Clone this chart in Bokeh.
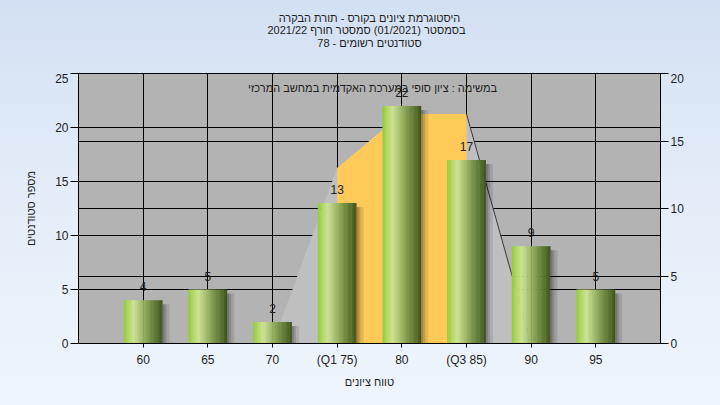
import numpy as np
from bokeh.plotting import figure
from bokeh.layouts import column
from bokeh.models import Range1d, LinearAxis, FixedTicker, Label
from bokeh.core.properties import value
from bokeh.embed import file_html
from bokeh.resources import INLINE

# Grade bins and number of students in each bin
bins = ["60", "65", "70", "(Q1 75)", "80", "(Q3 85)", "90", "95"]
students = [4, 5, 2, 13, 22, 17, 9, 5]
# Distribution outline on the secondary axis
curve = [0, 0, 0, 13, 17, 17, 0, 0]
q1_index, q3_index = 3, 5

left_ticks = [0, 5, 10, 15, 20, 25]
right_ticks = [0, 5, 10, 15, 20]

title_lines = [
    "היסטוגרמת ציונים בקורס - תורת הבקרה",
    "בסמסטר  (01/2021)  סמסטר חורף 2021/22",
    "סטודנטים רשומים - 78",
]
subtitle = "במשימה : ציון סופי במערכת האקדמית במחשב המרכזי"
x_title = "טווח ציונים"
y_title = "מספר סטודנטים"

FONT = "Liberation Sans"
TEXT = "#1e1e1e"

W, H = 720, 405
HEAD = 73                      # height of the heading strip
ML, MR, MB = 78, 60, 62
chart_h = H - HEAD
frame_w = W - ML - MR
frame_h = chart_h - MB

# ---- heading strip -------------------------------------------------------
head = figure(
    width=W, height=HEAD, x_range=Range1d(0, W), y_range=Range1d(0, HEAD),
    x_axis_type=None, y_axis_type=None, output_backend="svg",
    toolbar_location=None, min_border=0,
)
head.grid.visible = False
head.outline_line_color = None
head.background_fill_color = None
head.background_fill_alpha = 0
head.border_fill_color = None
head.border_fill_alpha = 0
line_y = [HEAD - 17, HEAD - 29.5, HEAD - 42]
head.text(x=[W / 2] * len(title_lines), y=line_y, text=title_lines,
          text_align="center", text_baseline="middle",
          text_font=value(FONT), text_font_size="11px", text_color=TEXT)

# ---- chart ---------------------------------------------------------------
xs = np.arange(1, len(bins) + 1, dtype=float)
x_max = len(bins) + 1
y_max = left_ticks[-1]
y2_max = right_ticks[-1]

p = figure(
    width=W, height=chart_h,
    x_range=Range1d(0, x_max), y_range=Range1d(0, y_max),
    output_backend="svg", toolbar_location=None,
    min_border_left=ML, min_border_right=MR,
    min_border_top=0, min_border_bottom=MB,
)
p.extra_y_ranges = {"right": Range1d(0, y2_max)}

p.border_fill_color = None
p.border_fill_alpha = 0
p.background_fill_color = "#b3b3b3"
p.outline_line_color = "black"
p.outline_line_width = 1

# Grid: vertical at every bin, horizontal at both axes' ticks
p.xgrid.ticker = FixedTicker(ticks=list(xs))
p.ygrid.ticker = FixedTicker(ticks=left_ticks + [t * y_max / y2_max for t in right_ticks])
for g in (p.xgrid, p.ygrid):
    g.grid_line_color = "black"
    g.grid_line_alpha = 1.0
    g.grid_line_width = 1

# Distribution area, inter-quartile band highlighted
p.varea(x=xs, y1=0, y2=curve, y_range_name="right", fill_color="#bfbfbf")
p.varea(x=xs[q1_index:q3_index + 1], y1=0, y2=curve[q1_index:q3_index + 1],
        y_range_name="right", fill_color="#ffca58")
p.line(xs[q3_index:q3_index + 2], curve[q3_index:q3_index + 2], y_range_name="right",
       line_color="#3a3a3a", line_width=1)

# Soft shadows on the right side of each bar
px_x = x_max / frame_w
px_y = y_max / frame_h
bar_w = 0.6
for a, b, alpha in [(0, 2, 0.35), (2, 4, 0.22), (4, 7, 0.10)]:
    p.quad(left=xs + bar_w / 2 + a * px_x, right=xs + bar_w / 2 + b * px_x,
           bottom=0, top=np.array(students) - 4 * px_y,
           fill_color="black", fill_alpha=alpha, line_color=None)

# Cylinder-shaded bars built from thin vertical strips
stops = [
    (0.00, (150, 200, 58)),
    (0.12, (178, 216, 100)),
    (0.26, (205, 228, 148)),
    (0.45, (166, 190, 112)),
    (0.70, (112, 140, 66)),
    (0.90, (80, 104, 40)),
    (1.00, (58, 78, 28)),
]


def shade(t):
    for (t0, c0), (t1, c1) in zip(stops[:-1], stops[1:]):
        if t <= t1:
            f = (t - t0) / (t1 - t0)
            return "#%02x%02x%02x" % tuple(int(round(u + (v - u) * f)) for u, v in zip(c0, c1))
    return "#%02x%02x%02x" % stops[-1][1]


n_strips = 30
lefts, rights, tops, colors = [], [], [], []
for x, v in zip(xs, students):
    for k in range(n_strips):
        l0 = x - bar_w / 2 + k * bar_w / n_strips
        lefts.append(l0)
        rights.append(min(l0 + bar_w / n_strips * 1.3, x + bar_w / 2))
        tops.append(v)
        colors.append(shade((k + 0.5) / n_strips))
p.quad(left=lefts, right=rights, bottom=0, top=tops, fill_color=colors, line_color=None)

# Count above each bar
p.text(x=xs, y=students, text=[str(v) for v in students],
       text_align="center", text_baseline="bottom", y_offset=-9,
       text_font=value(FONT), text_font_size="12px", text_color=TEXT)

# Axes
xax = p.xaxis[0]
xax.ticker = FixedTicker(ticks=list(xs))
xax.major_label_overrides = {int(x): lab for x, lab in zip(xs, bins)}
xax.axis_label = x_title
xax.major_tick_out = 4
xax.major_tick_in = 0
xax.major_label_standoff = 5
xax.axis_label_standoff = 6

yax = p.yaxis[0]
yax.ticker = FixedTicker(ticks=left_ticks)
yax.axis_label = y_title
yax.major_tick_out = 8
yax.major_tick_in = 0
yax.major_label_standoff = 2
yax.axis_label_standoff = 15

rax = LinearAxis(y_range_name="right", ticker=FixedTicker(ticks=right_ticks))
rax.major_tick_out = 8
rax.major_tick_in = 0
rax.major_label_standoff = 2
p.add_layout(rax, "right")

for ax in (xax, yax, rax):
    ax.axis_line_color = "black"
    ax.major_tick_line_color = "black"
    ax.minor_tick_line_color = None
    ax.major_label_text_font = FONT
    ax.major_label_text_font_size = "12px"
    ax.major_label_text_color = TEXT
    ax.axis_label_text_font = FONT
    ax.axis_label_text_font_size = "11px"
    ax.axis_label_text_font_style = "normal"
    ax.axis_label_text_color = TEXT

# Caption inside the top of the plot area
p.add_layout(Label(
    x=frame_w / 2 + 3, y=frame_h - 14, x_units="screen", y_units="screen",
    text=subtitle, text_align="center", text_baseline="middle",
    text_font=FONT, text_font_size="11px", text_color=TEXT,
))

page = column(head, p, spacing=0)
page.styles = {"background": "linear-gradient(180deg, #d3e0f3 0%, #e3ecf8 45%, #eef5fc 100%)"}

open("out.html", "w").write(file_html(page, INLINE))
